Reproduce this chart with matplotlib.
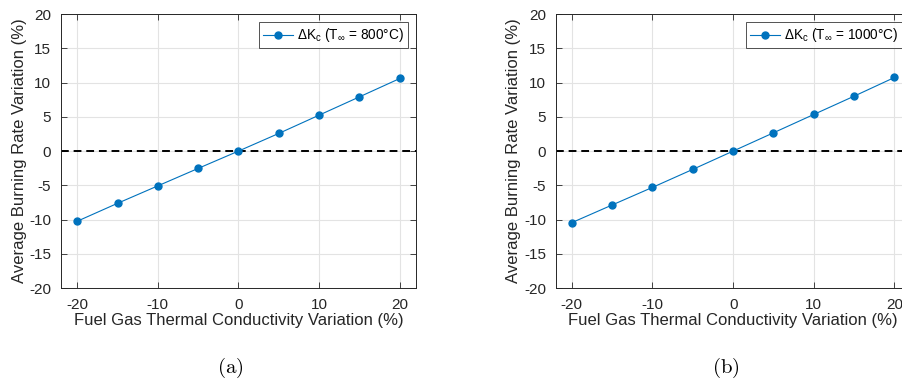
import matplotlib
matplotlib.use("Agg")
import matplotlib.pyplot as plt

plt.rcParams['font.family'] = ['Liberation Sans', 'DejaVu Sans']
plt.rcParams['mathtext.fontset'] = 'custom'
plt.rcParams['mathtext.rm'] = 'Liberation Sans'
plt.rcParams['mathtext.it'] = 'Liberation Sans:italic'
plt.rcParams['axes.unicode_minus'] = False

# Conductivity variation (%) and resulting burning-rate variation (%)
k_var = [-20, -15, -10, -5, 0, 5, 10, 15, 20]
rate_800 = [-10.25, -7.63, -5.08, -2.53, 0.0, 2.58, 5.25, 7.92, 10.6]
rate_1000 = [-10.45, -7.87, -5.3, -2.67, 0.0, 2.67, 5.35, 8.02, 10.75]
temps = ['800', '1000']
captions = ['(a)', '(b)']
xticks = [-20, -10, 0, 10, 20]
yticks = [-20, -15, -10, -5, 0, 5, 10, 15, 20]

blue = '#0072BD'
fig = plt.figure(figsize=(9.03, 3.82), dpi=100)

positions = [[0.0676, 0.246, 0.393, 0.717], [0.6154, 0.246, 0.393, 0.717]]
caption_x = [230 / 903, 726 / 903]

for pos, rates, temp, cap, cx in zip(positions, [rate_800, rate_1000], temps, captions, caption_x):
    ax = fig.add_axes(pos)
    ax.set_xlim(-22, 22)
    ax.set_ylim(-20, 20)
    ax.set_xticks(xticks)
    ax.set_yticks(yticks)
    ax.grid(True, color='#e3e3e3', linewidth=0.8)
    ax.set_axisbelow(True)
    ax.axhline(0, color='black', linestyle=(0, (4, 2.5)), linewidth=1.4, zorder=2)
    ax.plot(k_var, rates, color=blue, marker='o', markersize=5, linewidth=0.8,
            label=r'ΔK$_\mathrm{c}$ (T$_\mathrm{\infty}$ = %s°C)' % temp, zorder=3)
    ax.tick_params(direction='in', top=True, right=True, labelsize=11,
                   colors='#262626', length=4, width=0.6, pad=7)
    for s in ax.spines.values():
        s.set_color('#262626')
        s.set_linewidth(0.7)
    ax.set_xlabel('Fuel Gas Thermal Conductivity Variation (%)', fontsize=12, color='#262626', labelpad=1)
    ax.set_ylabel('Average Burning Rate Variation (%)', fontsize=12, color='#262626', labelpad=2)
    leg = ax.legend(loc='upper right', fontsize=9.8, frameon=True, fancybox=False,
                    edgecolor='#262626', handlelength=2.2, borderpad=0.3,
                    borderaxespad=0.6, handletextpad=0.3)
    leg.get_frame().set_linewidth(0.7)
    fig.text(cx, 1 - 368 / 382, r'$\mathrm{%s}$' % cap, ha='center', va='center',
             fontsize=15, math_fontfamily='cm')

fig.savefig('out.png', dpi=100)
